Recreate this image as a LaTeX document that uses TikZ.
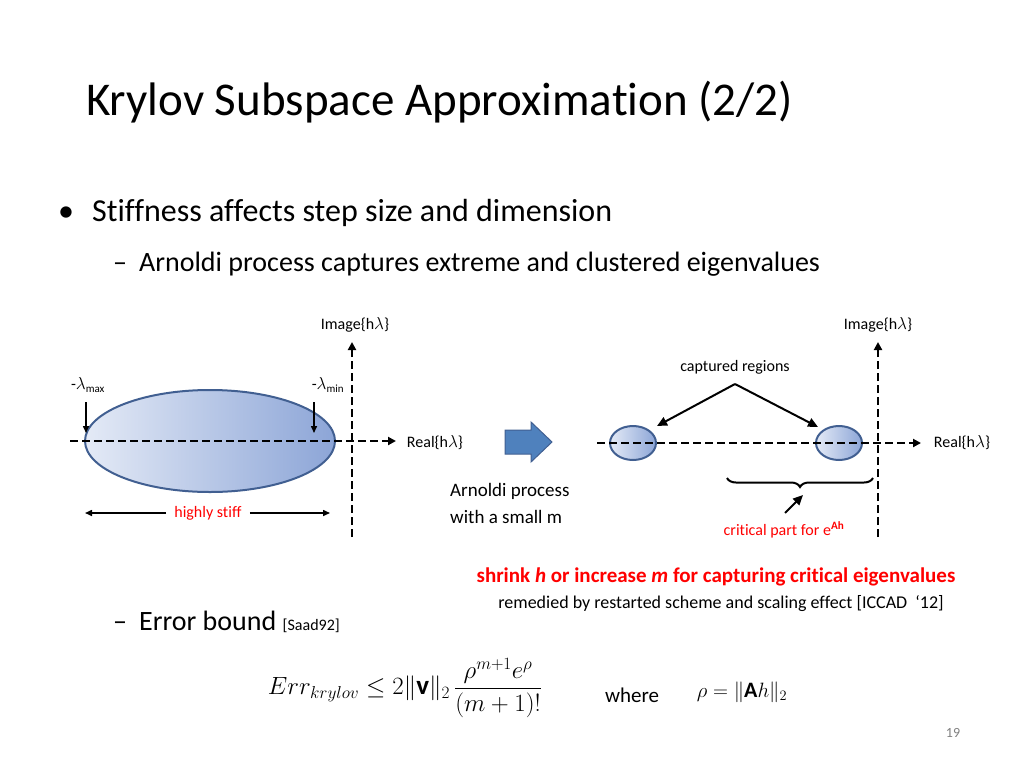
\documentclass[tikz,border=0pt]{standalone}
\usepackage{amsmath}
\usepackage{fontspec}
\setmainfont{Carlito}[Ligatures={NoCommon}]
\usetikzlibrary{arrows.meta,decorations.pathreplacing,shapes.geometric}
\definecolor{bord}{RGB}{65,95,145}
\definecolor{fillL}{RGB}{228,234,246}
\definecolor{fillR}{RGB}{140,165,215}
\definecolor{barrow}{RGB}{79,129,189}
\begin{document}
\begin{tikzpicture}[x=1pt,y=-1pt,
  ax/.style={line width=2.2pt,dash pattern=on 8pt off 4pt,-{Triangle[width=8pt,length=8pt]}},
  lbl/.style={font=\fontsize{16}{18}\selectfont,inner sep=0},
  blob/.style={draw=bord,line width=2pt,left color=fillL,right color=fillR},
  arr/.style={line width=2pt,-{Triangle[width=9pt,length=10pt]}}]
\useasboundingbox (0,0) rectangle (1024,768);
\node[anchor=base west,font=\fontsize{47}{50}\selectfont,inner sep=0] (title) at (86,115) {Krylov Subspace Approximation (2/2)};
\node[anchor=base west,font=\fontsize{32}{36}\selectfont,inner sep=0] (b1) at (58,221) {•\hspace{18pt}Stiffness affects step size and dimension};
\node[anchor=base west,font=\fontsize{28}{32}\selectfont,inner sep=0] (b2) at (113,271) {–\hspace{12pt}Arnoldi process captures extreme and clustered eigenvalues};
% left plot
\node[blob,ellipse,minimum width=250pt,minimum height=102pt] (E) at (210,441) {};
\coordinate (l0) at (70,441); \coordinate (l1) at (396,441);
\coordinate (v0) at (352,537); \coordinate (v1) at (352,342);
\draw[ax] (l0) -- (l1);
\draw[ax] (v0) -- (v1);
\node[lbl] (im1) at (355,325) {Image\{h$\lambda$\}};
\node[lbl] (re1) at (435,443) {Real\{h$\lambda$\}};
\node[lbl] (lmax) at (88,385) {-$\lambda_{\text{\fontsize{11}{12}\selectfont max}}$};
\node[lbl] (lmin) at (328,385) {-$\lambda_{\text{\fontsize{11}{12}\selectfont min}}$};
\coordinate (a1) at (86,402); \coordinate (a2) at (86,433);
\coordinate (a3) at (314,402); \coordinate (a4) at (314,433);
\draw[arr,line width=1.5pt,-{Triangle[width=6pt,length=7pt]}] (a1) -- (a2);
\draw[arr,line width=1.5pt,-{Triangle[width=6pt,length=7pt]}] (a3) -- (a4);
\node[lbl,text=red] (hs) at (208,513) {highly stiff};
\coordinate (h0) at (85,513); \coordinate (h1) at (330,513);
\draw[arr,line width=1.5pt,-{Triangle[width=6pt,length=7pt]}] (hs.west) ++(-8,0) -- (h0);
\draw[arr,line width=1.5pt,-{Triangle[width=6pt,length=7pt]}] (hs.east) ++(8,0) -- (h1);
% block arrow
\filldraw[fill=barrow,draw=bord,line width=1pt] (505,430) -- (531,430) -- (531,422) -- (552,442) -- (531,462) -- (531,454) -- (505,454) -- cycle;
\node[lbl,font=\fontsize{19}{27}\selectfont,anchor=west,align=left] (arn) at (450,503) {Arnoldi process\\with a small m};
% right plot
\coordinate (r0) at (597,443); \coordinate (r1) at (921,443);
\coordinate (w0) at (878,537); \coordinate (w1) at (878,342);
\node[blob,ellipse,minimum width=46pt,minimum height=34pt] (E1) at (633,443) {};
\node[blob,ellipse,minimum width=46pt,minimum height=34pt] (E2) at (839,443) {};
\draw[ax] (r0) -- (r1);
\draw[ax] (w0) -- (w1);
\node[lbl] (im2) at (878,325) {Image\{h$\lambda$\}};
\node[lbl] (re2) at (962,443) {Real\{h$\lambda$\}};
\node[lbl] (cap) at (735,367) {captured regions};
\coordinate (cp) at (735,384);
\coordinate (t1) at (657,426); \coordinate (t2) at (818,427);
\draw[arr] (cp) -- (t1);
\draw[arr] (cp) -- (t2);
\coordinate (br0) at (873,478); \coordinate (br1) at (727,478);
\draw[line width=2pt,decorate,decoration={brace,amplitude=9pt}] (br0) -- (br1);
\coordinate (ct) at (785,513); \coordinate (ch) at (803,495);
\draw[arr] (ct) -- (ch);
\node[lbl,text=red] (crit) at (784,530) {critical part for e\textsuperscript{\textbf{Ah}}};
% bottom
\node[anchor=center,font=\bfseries\fontsize{21}{24}\selectfont,text=red,inner sep=0] (shr) at (716,577) {shrink \textit{h} or increase \textit{m} for capturing critical eigenvalues};
\node[anchor=center,font=\fontsize{18}{20}\selectfont,inner sep=0] (rem) at (721,604) {remedied by restarted scheme and scaling effect [ICCAD~~‘12]};
\node[anchor=base west,font=\fontsize{28}{32}\selectfont,inner sep=0] (b3) at (113,630) {–\hspace{12pt}Error bound {\fontsize{16}{18}\selectfont[Saad92]}};
\node[font=\fontsize{27}{32}\selectfont,inner sep=0] (f) at (405,688) {$Err_{krylov}\le 2\lVert\mathbf{v}\rVert_2\,\dfrac{\rho^{m+1}e^{\rho}}{(m+1)!}$};
\node[font=\fontsize{21}{24}\selectfont,inner sep=0] (wh) at (632,695) {where};
\node[font=\fontsize{22}{24}\selectfont,inner sep=0] (rho) at (742,692) {$\rho=\lVert\mathbf{A}h\rVert_2$};
\node[font=\fontsize{14}{16}\selectfont,text=gray,inner sep=0] (pg) at (953,733) {19};
\end{tikzpicture}
\end{document}
